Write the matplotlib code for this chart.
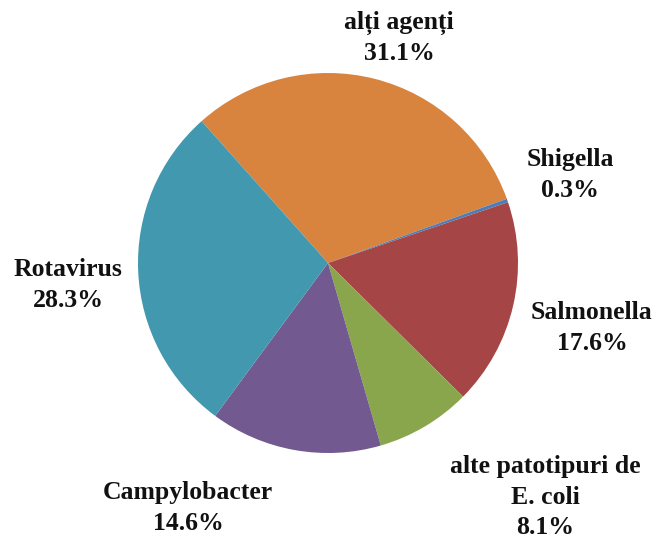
import matplotlib.pyplot as plt

# date
categorii = ["alți agenți", "Shigella", "Salmonella",
             "alte patotipuri de\nE. coli", "Campylobacter", "Rotavirus"]
procente = [31.1, 0.3, 17.6, 8.1, 14.6, 28.3]
culori = ["#D9843E", "#4A7EBB", "#A64545", "#8AA64D", "#725990", "#4298AF"]

# pozitii etichete (pixeli, origine stanga-sus)
pozitii = [(399, 38), (570, 175), (592, 328), (545, 497), (188, 508), (68, 285)]

W, H = 658, 538
fig = plt.figure(figsize=(W / 100, H / 100), dpi=100)
ax = fig.add_axes([0, 0, 1, 1])

ax.pie(procente, colors=culori, startangle=131.7, counterclock=False,
       center=(328, H - 263), radius=190, frame=True,
       wedgeprops=dict(linewidth=0.6, edgecolor="none"))
ax.set_xlim(0, W)
ax.set_ylim(0, H)
ax.set_aspect("equal")
ax.axis("off")

for cat, p, (x, y) in zip(categorii, procente, pozitii):
    ax.text(x, H - y, f"{cat}\n{p:.1f}%", ha="center", va="center",
            fontsize=18.5, fontweight="bold", family="Liberation Serif",
            color="#111111", linespacing=1.4)

fig.savefig("out.png", dpi=100)
